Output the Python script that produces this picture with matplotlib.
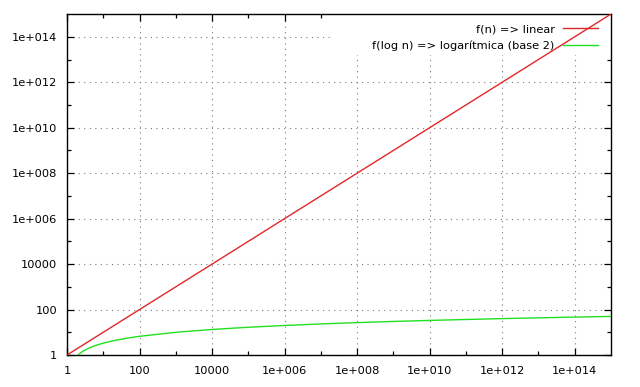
import math
import matplotlib
matplotlib.use("Agg")
import matplotlib.pyplot as plt
from matplotlib.patches import Rectangle
from matplotlib.ticker import FixedLocator, FuncFormatter, NullFormatter

# Data
lin_n = [1, 1e15]
lin_f = [1, 1e15]
log_n = [2, 2.5, 3, 4, 5, 7, 10, 20, 50, 100, 1e3, 1e4, 1e5, 1e6, 1e7, 1e8,
         1e9, 1e10, 1e11, 1e12, 1e13, 1e14, 1e15]
log_f = [1, 1.32, 1.58, 2, 2.32, 2.81, 3.32, 4.32, 5.64, 6.64, 9.97, 13.3, 16.6,
         19.9, 23.3, 26.6, 29.9, 33.2, 36.5, 39.9, 43.2, 46.5, 49.8]
labels = ["f(n) => linear", "f(log n) => logarítmica (base 2)"]
major_ticks = [1, 1e2, 1e4, 1e6, 1e8, 1e10, 1e12, 1e14]
minor_ticks = [1e1, 1e3, 1e5, 1e7, 1e9, 1e11, 1e13]

def fmt(v, pos):
    if v <= 1:
        return "1"
    if v < 1e5:
        return "%d" % round(v)
    e = int(round(math.log10(v)))
    return "1e+%03d" % e

plt.rcParams['font.family'] = ['DejaVu Sans']
fig = plt.figure(figsize=(6.4, 3.87), dpi=100)
ax = fig.add_axes([0.1047, 0.0827, 0.85, 0.881])
ax.set_xscale('log')
ax.set_yscale('log')
ax.set_xlim(1, 1e15)
ax.set_ylim(1, 1e15)

ax.plot(lin_n, lin_f, color='#e02828', lw=1.0, label=labels[0], zorder=3)
ax.plot(log_n, log_f, color='#20e020', lw=1.0, label=labels[1], zorder=3)

for a in (ax.xaxis, ax.yaxis):
    a.set_major_locator(FixedLocator(major_ticks))
    a.set_minor_locator(FixedLocator(minor_ticks))
    a.set_major_formatter(FuncFormatter(fmt))
    a.set_minor_formatter(NullFormatter())

ax.tick_params(which='both', direction='in', top=True, right=True, labelsize=8.2, width=0.9)
ax.tick_params(which='major', length=5)
ax.tick_params(which='minor', length=3)
ax.tick_params(axis='x', pad=8)
ax.tick_params(axis='y', pad=7)
ax.grid(True, which='major', linestyle=(0, (1, 4)), color='#7a7a7a', lw=0.8, zorder=0)
ax.set_axisbelow(True)
for s in ax.spines.values():
    s.set_linewidth(1.0)

# white key box (as in gnuplot, hides grid behind the key)
ax.add_patch(Rectangle((0.487, 0.88), 0.513, 0.12, transform=ax.transAxes,
                       facecolor='white', edgecolor='none', zorder=1))

leg = ax.legend(loc='upper right', bbox_to_anchor=(1 - 13 / 544, 1 - 10 / 341),
                markerfirst=False, frameon=False, fontsize=8.2,
                handlelength=3.05, borderaxespad=0, borderpad=0,
                labelspacing=0.6, handletextpad=0.75)
leg.set_zorder(2)

fig.savefig("out.png", dpi=100)
